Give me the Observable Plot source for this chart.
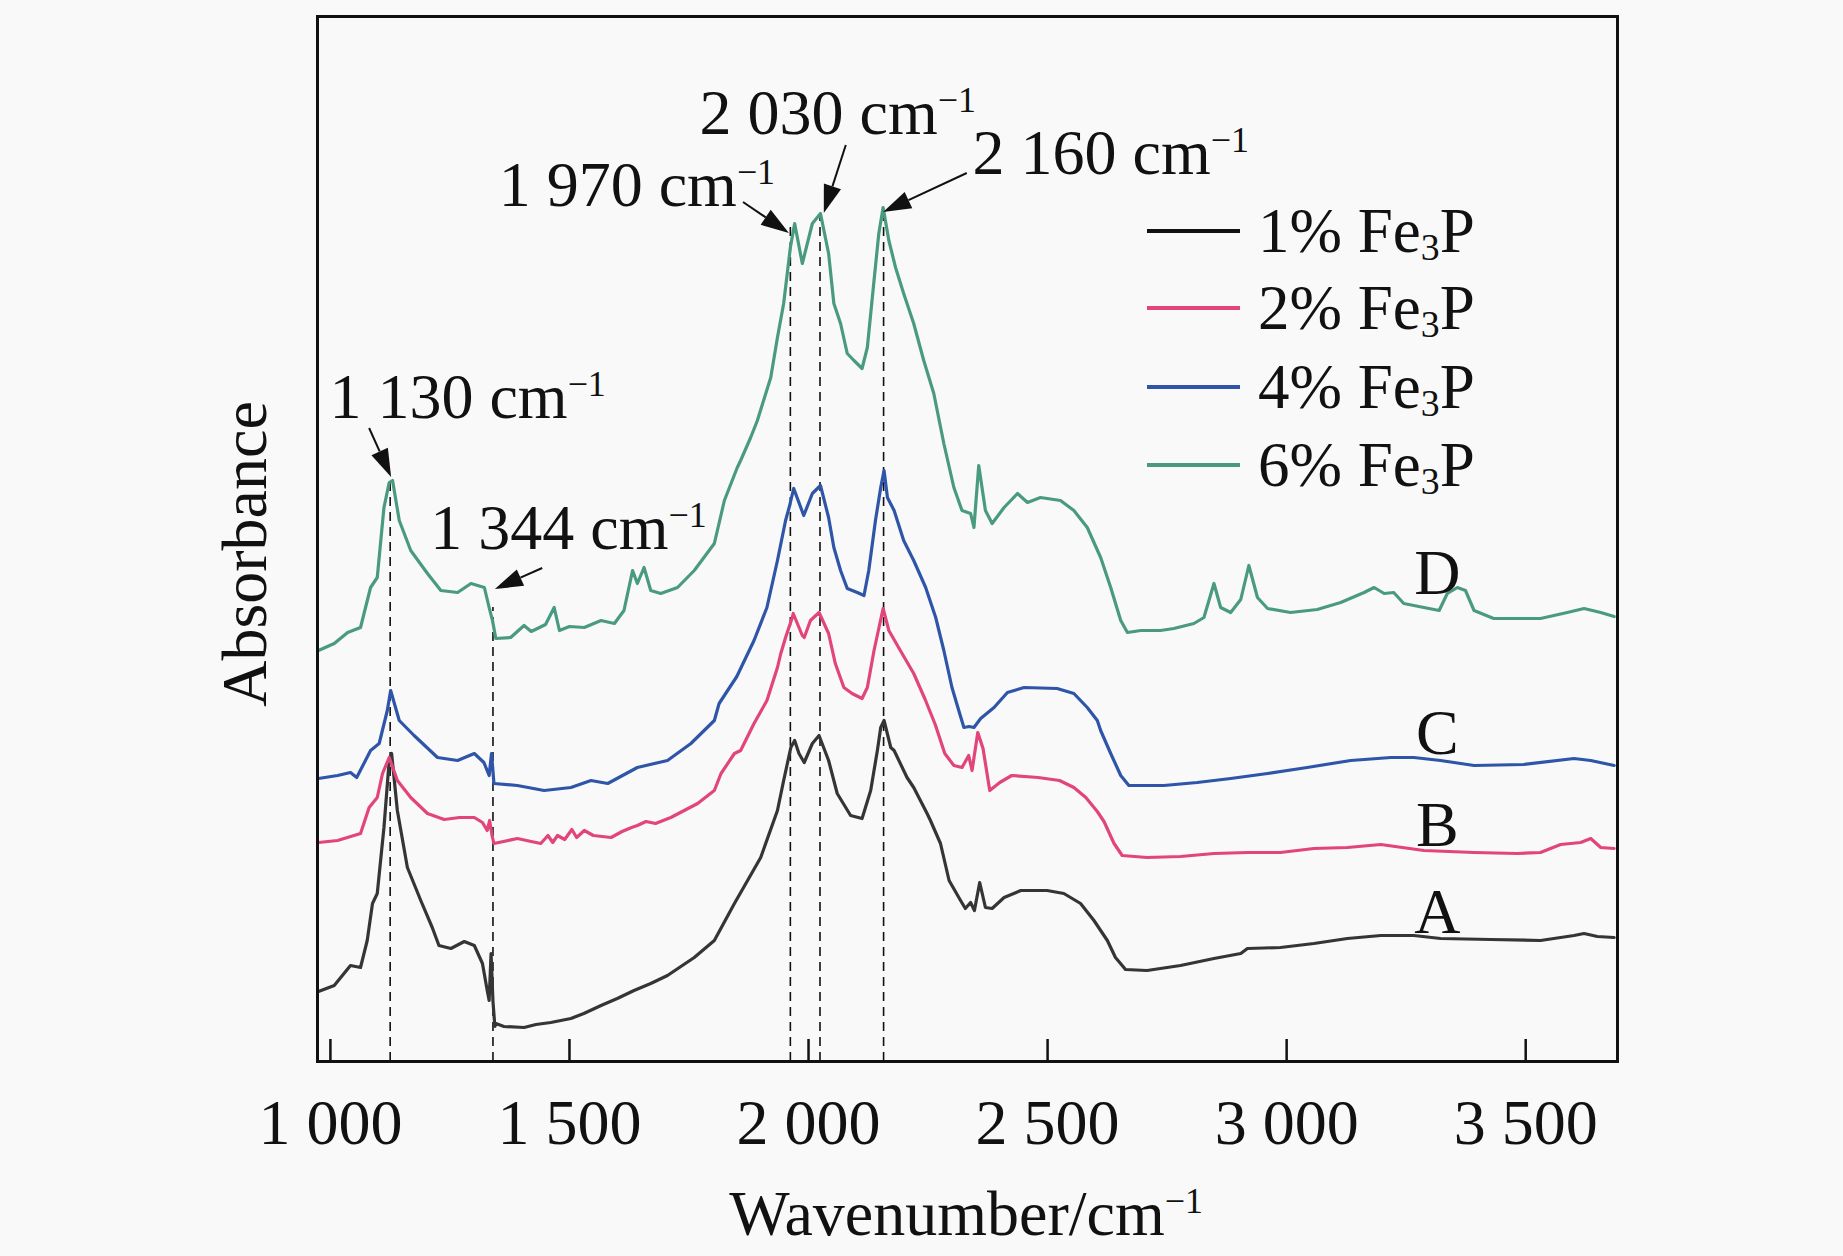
<!DOCTYPE html>
<html><head><meta charset="utf-8">
<script src="https://cdn.jsdelivr.net/npm/d3@7"></script>
<script src="https://cdn.jsdelivr.net/npm/@observablehq/plot@0.6"></script>
<style>
html,body{margin:0;padding:0;background:#f9f9f9;overflow:hidden;}
#chart svg{display:block;}
</style></head>
<body><div id="chart"></div>
<script>
// ---------------- data (y in arbitrary absorbance units) ----------------
const seriesNames = ["1% Fe_{3}P", "2% Fe_{3}P", "4% Fe_{3}P", "6% Fe_{3}P"];
const curveLetters = ["A", "B", "C", "D"];
const seriesColors = ["#353535", "#e2457a", "#2f55a8", "#4a9a82"];
const xTicks = [1000, 1500, 2000, 2500, 3000, 3500];
const peakWavenumbers = [1125, 1340, 1962, 2024, 2157];
const peakLabels = ["1 130 cm^{−1}", "1 344 cm^{−1}", "1 970 cm^{−1}", "2 030 cm^{−1}", "2 160 cm^{−1}"];

const curveA = [[975,70],[1008,76],[1042,96],[1063,94],[1077,121],[1088,158],[1098,168],[1112,234],[1123,301],[1128,308],[1140,251],[1161,194],[1189,161],[1213,134],[1227,116],[1252,113],[1280,120],[1301,116],[1318,98],[1328,71],[1332,61],[1336,108],[1340,60],[1344,35],[1346,38],[1363,35],[1405,34],[1430,37],[1461,39],[1503,43],[1530,48],[1566,56],[1600,63],[1635,71],[1670,78],[1705,86],[1761,104],[1803,121],[1845,158],[1900,204],[1935,251],[1948,281],[1963,314],[1971,321],[1980,308],[1991,299],[2008,318],[2022,326],[2042,301],[2060,268],[2088,246],[2112,243],[2130,271],[2144,311],[2151,334],[2158,341],[2172,314],[2179,311],[2206,284],[2220,274],[2248,248],[2255,241],[2276,218],[2294,181],[2318,161],[2328,153],[2339,159],[2347,151],[2358,179],[2370,154],[2384,153],[2409,164],[2444,171],[2499,171],[2534,168],[2569,158],[2597,141],[2625,121],[2642,104],[2663,92],[2708,91],[2778,96],[2848,103],[2904,108],[2918,113],[2987,114],[3057,118],[3127,123],[3197,126],[3266,126],[3322,123],[3427,122],[3531,121],[3601,126],[3622,128],[3650,125],[3685,124]];

const curveB = [[975,219],[1015,221],[1063,228],[1081,254],[1098,264],[1109,288],[1123,304],[1140,281],[1168,264],[1203,248],[1238,242],[1270,244],[1301,244],[1318,239],[1328,231],[1333,241],[1338,226],[1342,218],[1391,223],[1420,220],[1440,218],[1455,226],[1465,219],[1475,226],[1490,222],[1505,232],[1515,224],[1531,231],[1550,226],[1587,224],[1610,230],[1630,234],[1642,236],[1660,240],[1680,238],[1712,244],[1768,258],[1803,271],[1817,288],[1845,308],[1858,311],[1886,338],[1913,361],[1935,394],[1942,408],[1952,424],[1966,444],[1968,448],[1987,426],[1991,424],[2004,441],[2022,449],[2042,428],[2056,398],[2074,374],[2091,368],[2112,363],[2123,374],[2137,411],[2156,453],[2168,431],[2192,411],[2220,388],[2244,362],[2265,337],[2285,308],[2304,296],[2321,294],[2335,306],[2342,291],[2354,329],[2365,313],[2379,271],[2400,279],[2425,286],[2480,284],[2525,281],[2555,274],[2580,264],[2604,250],[2618,240],[2639,218],[2656,206],[2708,204],[2778,205],[2848,208],[2918,209],[2987,209],[3057,213],[3127,214],[3197,217],[3287,211],[3392,209],[3483,208],[3531,209],[3573,217],[3615,219],[3636,223],[3657,214],[3685,213]];

const curveC = [[975,283],[1015,286],[1042,289],[1055,284],[1084,311],[1102,318],[1119,351],[1126,371],[1144,341],[1175,326],[1224,304],[1266,301],[1301,308],[1321,299],[1332,286],[1337,308],[1342,278],[1391,276],[1447,271],[1503,274],[1545,281],[1580,278],[1642,294],[1705,301],[1754,318],[1803,341],[1813,358],[1850,385],[1886,421],[1913,454],[1935,501],[1952,541],[1960,555],[1969,573],[1990,546],[2008,568],[2025,576],[2042,544],[2053,514],[2067,491],[2081,473],[2102,469],[2116,466],[2126,491],[2140,541],[2151,574],[2158,591],[2165,564],[2179,551],[2199,521],[2220,501],[2245,474],[2266,444],[2283,411],[2300,374],[2318,345],[2325,334],[2336,335],[2346,334],[2360,343],[2388,354],[2416,369],[2451,374],[2520,373],[2555,368],[2569,361],[2583,354],[2604,341],[2611,331],[2632,308],[2653,286],[2670,276],[2743,276],[2813,279],[2883,283],[2960,288],[3043,294],[3134,301],[3218,304],[3266,304],[3322,301],[3392,296],[3496,297],[3601,303],[3636,301],[3685,296]];

const curveD = [[975,411],[1008,418],[1036,429],[1063,434],[1084,474],[1098,484],[1112,554],[1123,579],[1130,581],[1144,541],[1168,511],[1203,488],[1231,471],[1266,469],[1294,478],[1322,474],[1332,454],[1339,441],[1346,423],[1377,424],[1405,436],[1420,430],[1433,433],[1450,437],[1468,454],[1479,431],[1500,435],[1531,434],[1566,441],[1594,438],[1614,451],[1632,491],[1642,478],[1656,494],[1670,471],[1691,468],[1726,474],[1761,491],[1803,518],[1824,561],[1851,594],[1858,601],[1879,624],[1893,641],[1921,684],[1935,724],[1948,758],[1962,814],[1971,838],[1987,798],[2008,838],[2025,848],[2042,808],[2053,758],[2067,738],[2081,708],[2095,701],[2112,693],[2123,714],[2137,781],[2147,828],[2156,854],[2168,821],[2182,794],[2199,768],[2220,738],[2241,701],[2262,668],[2283,618],[2304,574],[2321,551],[2339,548],[2346,534],[2356,596],[2370,551],[2384,538],[2409,554],[2437,568],[2458,559],[2485,564],[2527,561],[2555,551],[2583,534],[2611,504],[2632,474],[2653,441],[2667,429],[2695,431],[2736,431],[2764,433],[2806,438],[2827,444],[2848,478],[2862,454],[2883,449],[2904,462],[2921,496],[2939,464],[2960,453],[3008,449],[3064,452],[3113,459],[3162,469],[3183,474],[3204,468],[3224,469],[3245,458],[3287,454],[3319,451],[3336,468],[3357,474],[3374,471],[3392,451],[3433,443],[3496,443],[3531,443],[3587,449],[3622,453],[3657,449],[3685,445]];

const curves = [curveA, curveB, curveC, curveD];

// ---------------- layout (annotation anchors in data coordinates) ----------------
const FONT = "'Liberation Serif','Times New Roman',Times,serif";
const labelAnchors = [[998,644],[1209,513],[1352,856],[1772,928],[2343,888]];
const arrowSpecs = [ // [tailX, tailY, tipX, tipY]
  [1082,633,1128,584],[1444,493,1345,472],[1864,859,1960,828],[2079,916,2033,848],[2332,888,2157,849]
];
const letterAnchors = [[3315,129],[3315,216],[3315,308],[3315,468]];

// ---------------- build tables ----------------
const rows = curves.flatMap((c, i) => c.map(([x, y]) => ({x, y, series: seriesNames[i]})));
const dashed = peakWavenumbers.map(w => ({x: w, top: d3.max(curveD.filter(([x]) => Math.abs(x - w) <= 10), d => d[1])}));
const peakTexts = peakLabels.map((t, i) => ({text: t, x: labelAnchors[i][0], y: labelAnchors[i][1]}));
const letters = curveLetters.map((t, i) => ({text: t, x: letterAnchors[i][0], y: letterAnchors[i][1]}));
const fmt = d => d3.format(",")(d).replace(/,/g, " ");

const plot = Plot.plot({
  width: 1843, height: 1256,
  marginLeft: 317, marginRight: 226, marginTop: 16, marginBottom: 195,
  x: {domain: [973, 3692], ticks: xTicks, tickSize: 0, tickPadding: 37, tickFormat: fmt, label: null},
  y: {domain: [0, 1045], axis: null},
  color: {domain: seriesNames, range: seriesColors},
  style: {fontFamily: FONT, fontSize: "64px", background: "#f9f9f9", color: "#111", overflow: "visible"},
  marks: [
    Plot.ruleX(dashed, {x: "x", y1: 0, y2: "top", stroke: "#111", strokeWidth: 1.6, strokeDasharray: "9,6"}),
    Plot.line(rows, {x: "x", y: "y", z: "series", stroke: "series", strokeWidth: 3.2, strokeLinejoin: "round", strokeLinecap: "round"}),
    Plot.ruleX(xTicks, {x: d => d, insetTop: 1023, stroke: "#111", strokeWidth: 2.5}),
    Plot.frame({stroke: "#111", strokeWidth: 3}),
    Plot.text(peakTexts, {x: "x", y: "y", text: "text", textAnchor: "start", lineAnchor: "bottom", fontSize: 64, fill: "#111"}),
    Plot.text(letters, {x: "x", y: "y", text: "text", textAnchor: "middle", lineAnchor: "bottom", fontSize: 64, fill: "#111"})
  ]
});

// rich text (superscripts / subscripts)
function setRich(el, str, fs) {
  const t = d3.select(el); t.text(null);
  const parts = []; const re = /([\^_])\{([^}]*)\}/g; let last = 0, m;
  while ((m = re.exec(str))) {
    if (m.index > last) parts.push({s: str.slice(last, m.index), k: ""});
    parts.push({s: m[2], k: m[1]}); last = re.lastIndex;
  }
  if (last < str.length) parts.push({s: str.slice(last), k: ""});
  let cur = 0;
  for (const p of parts) {
    const off = p.k === "^" ? -0.34 * fs : p.k === "_" ? 0.13 * fs : 0;
    const ts = t.append("tspan").text(p.s);
    if (off - cur !== 0) ts.attr("dy", off - cur);
    if (p.k) ts.attr("font-size", (p.k === "^" ? 0.56 : 0.6) * fs);
    cur = off;
  }
}
d3.select(plot).selectAll("text").each(function() {
  const s = this.textContent;
  if (/[\^_]\{/.test(s)) setRich(this, s, 64);
});

const svg = d3.select(plot);
const sx = plot.scale("x"), sy = plot.scale("y");

// arrows with filled heads, positioned through the plot scales
const ag = svg.append("g").attr("fill", "#111").attr("stroke", "#111");
for (const [x1, y1, x2, y2] of arrowSpecs) {
  const ax = sx.apply(x1), ay = sy.apply(y1), bx = sx.apply(x2), by = sy.apply(y2);
  const dx = bx - ax, dy = by - ay, L = Math.hypot(dx, dy), ux = dx / L, uy = dy / L;
  const hl = 28, hw = 9;
  const baseX = bx - ux * hl, baseY = by - uy * hl;
  ag.append("line").attr("x1", ax).attr("y1", ay).attr("x2", baseX).attr("y2", baseY).attr("stroke-width", 2);
  ag.append("path").attr("stroke", "none")
    .attr("d", `M${bx},${by}L${baseX - uy * hw},${baseY + ux * hw}L${baseX + uy * hw},${baseY - ux * hw}Z`);
}

// axis titles
const xt = svg.append("text").attr("x", 966).attr("y", 1235).attr("text-anchor", "middle")
  .attr("font-family", FONT).attr("font-size", 64).attr("fill", "#111");
setRich(xt.node(), "Wavenumber/cm^{−1}", 64);
svg.append("text").attr("transform", "translate(266,554) rotate(-90)").attr("text-anchor", "middle")
  .attr("font-family", FONT).attr("font-size", 64).attr("fill", "#111").text("Absorbance");

// legend
const lg = svg.append("g").attr("text-anchor", "start");
const rowsY = [231, 308, 387, 465];
seriesNames.forEach((name, i) => {
  lg.append("line").attr("x1", 1147).attr("x2", 1240).attr("y1", rowsY[i]).attr("y2", rowsY[i])
    .attr("stroke", i === 0 ? "#111" : seriesColors[i]).attr("stroke-width", 4);
  const t = lg.append("text").attr("x", 1258).attr("y", rowsY[i] + 21).attr("text-anchor", "start")
    .attr("font-family", FONT).attr("font-size", 63).attr("fill", "#111");
  setRich(t.node(), name, 63);
});

document.getElementById("chart").appendChild(plot);
</script>
</body></html>
